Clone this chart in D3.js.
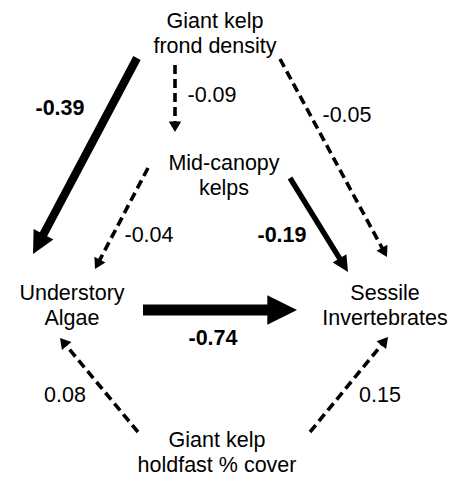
<!DOCTYPE html>
<html>
<head>
<meta charset="utf-8">
<script src="https://cdn.jsdelivr.net/npm/d3@7"></script>
<style>
  html, body { margin: 0; padding: 0; background: #fff; }
  svg { display: block; }
  text { font-family: "Liberation Sans", Arial, sans-serif; fill: #000; }
</style>
</head>
<body>
<svg id="chart" width="455" height="477"></svg>
<script>
// ---- data ----
const nodeIds = ["frond", "mid", "under", "sessile", "holdfast"];
const nodeLabels = [
  ["Giant kelp", "frond density"],
  ["Mid-canopy", "kelps"],
  ["Understory", "Algae"],
  ["Sessile", "Invertebrates"],
  ["Giant kelp", "holdfast % cover"]
];
const pathFrom = ["frond", "frond", "frond", "mid", "mid", "under", "holdfast", "holdfast"];
const pathTo   = ["under", "mid", "sessile", "under", "sessile", "sessile", "under", "sessile"];
const pathCoef = [-0.39, -0.09, -0.05, -0.04, -0.19, -0.74, 0.08, 0.15];
const pathSignificant = [true, false, false, false, true, true, false, false];

// ---- layout (positions only) ----
const nodePos = {
  frond:    { x: 215, y: 28 },
  mid:      { x: 224, y: 170 },
  under:    { x: 72,  y: 300 },
  sessile:  { x: 385, y: 300 },
  holdfast: { x: 217, y: 447 }
};
const lineGap = 25;
// arrow start / tip points and label anchors
const arrowGeom = [
  { x1: 137, y1: 58,  x2: 33,  y2: 254, lx: 60,  ly: 115 },
  { x1: 175, y1: 65,  x2: 175, y2: 132, lx: 212, ly: 102 },
  { x1: 280, y1: 59,  x2: 387, y2: 257, lx: 347, ly: 122 },
  { x1: 148, y1: 168, x2: 95,  y2: 269, lx: 149, ly: 242 },
  { x1: 290, y1: 178, x2: 348, y2: 272, lx: 282, ly: 242 },
  { x1: 143, y1: 310, x2: 297, y2: 310, lx: 213, ly: 345 },
  { x1: 138, y1: 432, x2: 60,  y2: 338, lx: 65,  ly: 402 },
  { x1: 310, y1: 432, x2: 388, y2: 337, lx: 380, ly: 402 }
];

const svg = d3.select("#chart");
const fontSize = 21.5;

// width scale from |coefficient|
const widthScale = d3.scaleLinear().domain([0.19, 0.39, 0.74]).range([5.3, 8.3, 11]);
const dashedWidth = 3.6;

const paths = pathCoef.map((c, i) => ({
  from: pathFrom[i], to: pathTo[i], coef: c, sig: pathSignificant[i], g: arrowGeom[i]
}));

// ---- nodes ----
const nodeG = svg.append("g");
nodeIds.forEach((id, i) => {
  const p = nodePos[id];
  const t = nodeG.append("text")
    .attr("text-anchor", "middle")
    .attr("font-size", fontSize);
  nodeLabels[i].forEach((line, j) => {
    t.append("tspan").attr("x", p.x).attr("y", p.y + j * lineGap).text(line);
  });
});

// ---- arrows ----
const arrowG = svg.append("g");
paths.forEach(d => {
  const w = d.sig ? widthScale(Math.abs(d.coef)) : dashedWidth;
  const headLen = d.sig ? Math.max(w * 2.7, 16) : 10.5;
  const headHalf = d.sig ? Math.max(w * 1.35, 8) : 6.2;
  const { x1, y1, x2, y2 } = d.g;
  const dx = x2 - x1, dy = y2 - y1;
  const L = Math.hypot(dx, dy);
  const ux = dx / L, uy = dy / L;
  const bx = x2 - ux * headLen, by = y2 - uy * headLen;
  arrowG.append("line")
    .attr("x1", x1).attr("y1", y1)
    .attr("x2", bx + ux * 1).attr("y2", by + uy * 1)
    .attr("stroke", "#000")
    .attr("stroke-width", w)
    .attr("stroke-dasharray", d.sig ? null : "9,5");
  const px = -uy, py = ux;
  const pts = [
    [x2, y2],
    [bx + px * headHalf, by + py * headHalf],
    [bx - px * headHalf, by - py * headHalf]
  ];
  arrowG.append("path")
    .attr("d", d3.line()(pts) + "Z")
    .attr("fill", "#000");
  svg.append("text")
    .attr("x", d.g.lx).attr("y", d.g.ly)
    .attr("text-anchor", "middle")
    .attr("font-size", fontSize)
    .attr("font-weight", d.sig ? "bold" : "normal")
    .text(d3.format(".2f")(d.coef).replace("−", "-"));
});
</script>
</body>
</html>
